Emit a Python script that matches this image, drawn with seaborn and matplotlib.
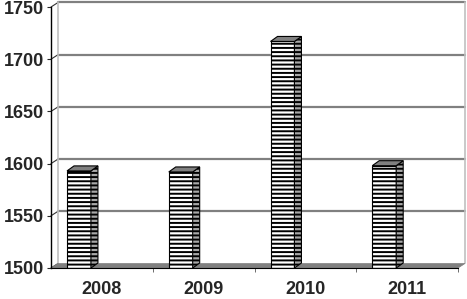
import matplotlib
matplotlib.use("Agg")
import matplotlib.pyplot as plt
from matplotlib.patches import Polygon
import pandas as pd
import seaborn as sns

years = ["2008", "2009", "2010", "2011"]
values = [1593, 1592, 1717, 1598]
yticks = [1500, 1550, 1600, 1650, 1700, 1750]

sns.set_style("white")
plt.rcParams["font.family"] = ["Liberation Sans", "DejaVu Sans"]
plt.rcParams["hatch.linewidth"] = 1.4
plt.rcParams["hatch.color"] = "black"

fig = plt.figure(figsize=(4.67, 2.99), dpi=100)
ax = fig.add_axes([51 / 467, 31 / 299, (458 - 51) / 467, (268 - 7) / 299])

df = pd.DataFrame({"year": years, "value": values})
sns.barplot(data=df, x="year", y="value", color="white", saturation=1,
            edgecolor="black", linewidth=0.8, hatch="----", width=0.235,
            ax=ax, zorder=4)

ymin, ymax = 1500, 1750
x0, x1 = -0.275, 3.725
ax.set_ylim(ymin, ymax)
ax.set_xlim(x0, x1)

# pixel -> data conversion for the fake 3D depth
px_x = ax.bbox.width / (x1 - x0)
px_y = ax.bbox.height / (ymax - ymin)
wdx, wdy = 7 / px_x, 4.5 / px_y   # back wall offset
bdx, bdy = 7 / px_x, 5 / px_y     # bar depth

# floor
ax.add_patch(Polygon([(x0, ymin), (x1, ymin), (x1 + wdx, ymin + wdy), (x0 + wdx, ymin + wdy)],
                     closed=True, facecolor="#808080", edgecolor="#808080", lw=0.5,
                     clip_on=False, zorder=2))

# back wall gridlines and side walls
for v in yticks[1:]:
    ax.plot([x0 + wdx, x1 + wdx], [v + wdy, v + wdy], color="#808080", lw=1.6,
            clip_on=False, zorder=1)
for v in yticks:
    ax.plot([x0, x0 + wdx], [v, v + wdy], color="#333333", lw=0.8,
            clip_on=False, zorder=1)
for xx in (x0 + wdx, x1 + wdx):
    ax.plot([xx, xx], [ymin + wdy, ymax + wdy], color="#c0c0c0", lw=1.2,
            clip_on=False, zorder=1)

# bar sides and tops
bars = [p for p in ax.patches if p.get_hatch()]
for p in bars:
    bx0 = p.get_x()
    bx1 = bx0 + p.get_width()
    top = p.get_y() + p.get_height()
    ax.add_patch(Polygon([(bx1, ymin), (bx1 + bdx, ymin + bdy), (bx1 + bdx, top + bdy), (bx1, top)],
                         closed=True, facecolor="#a8a8a8", edgecolor="black", lw=0.8,
                         hatch="----", zorder=4))
    ax.add_patch(Polygon([(bx0, top), (bx0 + bdx, top + bdy), (bx1 + bdx, top + bdy), (bx1, top)],
                         closed=True, facecolor="#808080", edgecolor="black", lw=0.8,
                         zorder=4))

ax.set_xlabel("")
ax.set_ylabel("")
ax.set_yticks(yticks)
ax.set_xticks([i + 0.5 + x0 for i in range(len(years))])
ax.set_xticklabels(years)
ax.set_xticks([x0 + i + 1 for i in range(len(years))], minor=True)
ax.tick_params(axis="y", which="major", left=True, length=3, width=0.8, pad=2,
               labelsize=13)
ax.tick_params(axis="x", which="major", bottom=False, length=0, pad=9, labelsize=13)
ax.tick_params(axis="x", which="minor", bottom=True, length=3, width=0.6, color="#555555")
for lab in ax.get_xticklabels() + ax.get_yticklabels():
    lab.set_fontweight("bold")

for s in ("top", "right"):
    ax.spines[s].set_visible(False)
ax.spines["left"].set_color("black")
ax.spines["left"].set_linewidth(1)
ax.spines["bottom"].set_color("black")
ax.spines["bottom"].set_linewidth(0.8)
ax.patch.set_alpha(0)

fig.savefig("out.png", dpi=100)
